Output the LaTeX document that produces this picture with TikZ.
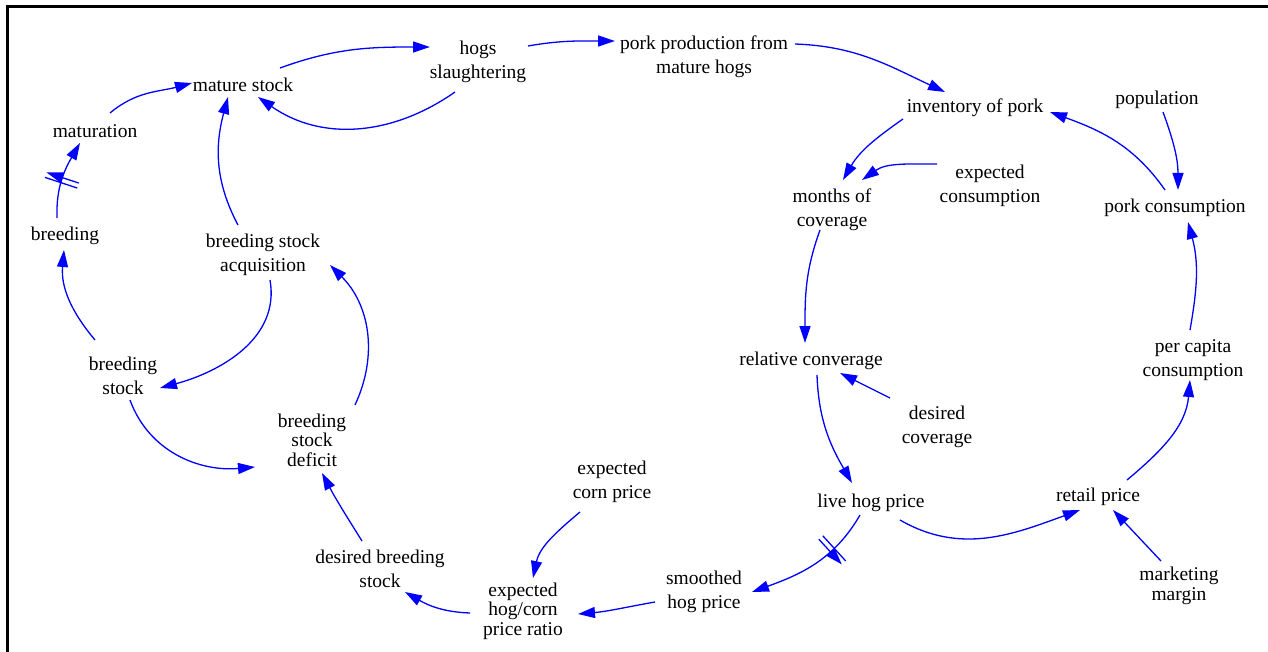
\documentclass[tikz,border=0pt]{standalone}
\usepackage{fontspec}
\setmainfont{Liberation Serif}
\usetikzlibrary{calc,arrows.meta,decorations.markings}
\tikzset{
  lbl/.style={align=center, inner sep=2pt, text=black, font=\fontsize{19.5}{24}\selectfont},
  lbltight/.style={align=center, inner sep=2pt, text=black, font=\fontsize{19.5}{19.5}\selectfont},
  link/.style={draw=blue, line width=1.3pt, -{Triangle[length=17pt,width=11pt]}},
  hash/.style={postaction={decorate, decoration={markings, mark=at position #1 with {\draw[blue, line width=1.3pt] (-2.6,-17) -- (-2.6,17) (2.6,-17) -- (2.6,17);}}}},
  frame/.style={draw=black, line width=3pt}
}
\begin{document}
\begin{tikzpicture}[x=1pt,y=1pt]
\useasboundingbox (0,0) rectangle (1268,-652);
\draw[frame] (7.5,-652) -- (7.5,-6.5) -- (1268,-6.5);

% nodes
\node[lbl] (ms) at (243,-85) {mature stock};
\node[lbl] (hs) at (478,-62) {hogs\\slaughtering};
\node[lbl] (pp) at (704,-57) {pork production from\\mature hogs};
\node[lbl] (ip) at (975,-108) {inventory of pork};
\node[lbl] (pop) at (1157,-100) {population};
\node[lbl] (pc) at (1175,-208) {pork consumption};
\node[lbl] (pcc) at (1193,-360) {per capita\\consumption};
\node[lbl] (rp) at (1098,-497) {retail price};
\node[lbltight] (mm) at (1179,-586) {marketing\\margin};
\node[lbl] (lhp) at (871,-503) {live hog price};
\node[lbl] (shp) at (704,-592) {smoothed\\hog price};
\node[lbltight] (ehc) at (523,-611) {expected\\hog/corn\\price ratio};
\node[lbl] (ecp) at (612,-482) {expected\\corn price};
\node[lbl] (dbs) at (380,-569) {desired breeding\\stock};
\node[lbltight] (bsd) at (312,-440) {breeding\\stock\\deficit};
\node[lbl] (bs) at (123,-376) {breeding\\stock};
\node[lbl] (bsa) at (263,-255) {breeding stock\\acquisition};
\node[lbl] (br) at (65,-236) {breeding};
\node[lbl] (mat) at (95,-131) {maturation};
\node[lbl] (moc) at (832,-210) {months of\\coverage};
\node[lbl] (ec) at (990,-186) {expected\\consumption};
\node[lbl] (rc) at (811,-361) {relative converage};
\node[lbl] (dc) at (937,-427) {desired\\coverage};

% connectors
\draw[link] ($(ms)+(37,17)$) to[out=20,in=180] ($(hs)+(-48,15)$);
\draw[link] ($(hs)+(-23,-30)$) to[out=215,in=325] ($(ms)+(15,-12)$);
\draw[link] ($(hs)+(50,16)$) to[out=10,in=180] ($(pp)+(-89,16)$);
\draw[link] ($(pp)+(91,13)$) to[out=-2,in=155] ($(ip)+(-30,16)$);
\draw[link] ($(mat)+(15,18)$) to[out=40,in=195] ($(ms)+(-51,2)$);
\draw[link, hash=0.48] ($(br)+(-8,18)$) to[out=92,in=240] ($(mat)+(-15,-12)$);
\draw[link] ($(bs)+(-28,36)$) to[out=130,in=265] ($(br)+(-1,-14)$);
\draw[link] ($(bsa)+(-25,30)$) to[out=118,in=255] ($(ms)+(-15,-12)$);
\draw[link] ($(bsa)+(7,-25)$) to[out=-80,in=15] ($(bs)+(37,-12)$);
\draw[link] ($(bs)+(7,-24)$) to[out=-70,in=185] ($(bsd)+(-57,-27)$);
\draw[link] ($(bsd)+(43,35)$) to[out=65,in=315] ($(bsa)+(67,-10)$);
\draw[link] ($(dbs)+(-18,28)$) to[out=122,in=298] ($(bsd)+(10,-33)$);
\draw[link] ($(ecp)+(-32,-30)$) to[out=220,in=78] ($(ehc)+(10,33)$);
\draw[link] ($(ehc)+(-53,-2)$) to[out=178,in=330] ($(dbs)+(25,-23)$);
\draw[link] ($(shp)+(-49,-10)$) to[out=190,in=5] ($(ehc)+(55,-3)$);
\draw[link, hash=0.33] ($(lhp)+(-11,-12)$) to[out=240,in=20] ($(shp)+(48,0)$);
\draw[link] ($(lhp)+(29,-17)$) to[out=-30,in=200] ($(rp)+(-18,-13)$);
\draw[link] ($(rp)+(29,17)$) to[out=40,in=265] ($(pcc)+(-3,-20)$);
\draw[link] ($(pcc)+(-3,30)$) to[out=80,in=285] ($(pc)+(13,-14)$);
\draw[link] ($(pc)+(-10,18)$) to[out=125,in=340] ($(ip)+(75,-4)$);
\draw[link] ($(pop)+(6,-12)$) to[out=-70,in=90] ($(pc)+(3,18)$);
\draw[link] ($(mm)+(-18,25)$) -- ($(rp)+(15,-13)$);
\draw[link] ($(ip)+(-72,-11)$) to[out=215,in=60] ($(moc)+(11,30)$);
\draw[link] ($(ec)+(-53,22)$) to[out=180,in=35] ($(moc)+(30,30)$);
\draw[link] ($(moc)+(-12,-20)$) to[out=250,in=90] ($(rc)+(-6,18)$);
\draw[link] ($(dc)+(-47,29)$) -- ($(rc)+(29,-12)$);
\draw[link] ($(rc)+(6,-14)$) to[out=-88,in=120] ($(lhp)+(-19,20)$);
\end{tikzpicture}
\end{document}
